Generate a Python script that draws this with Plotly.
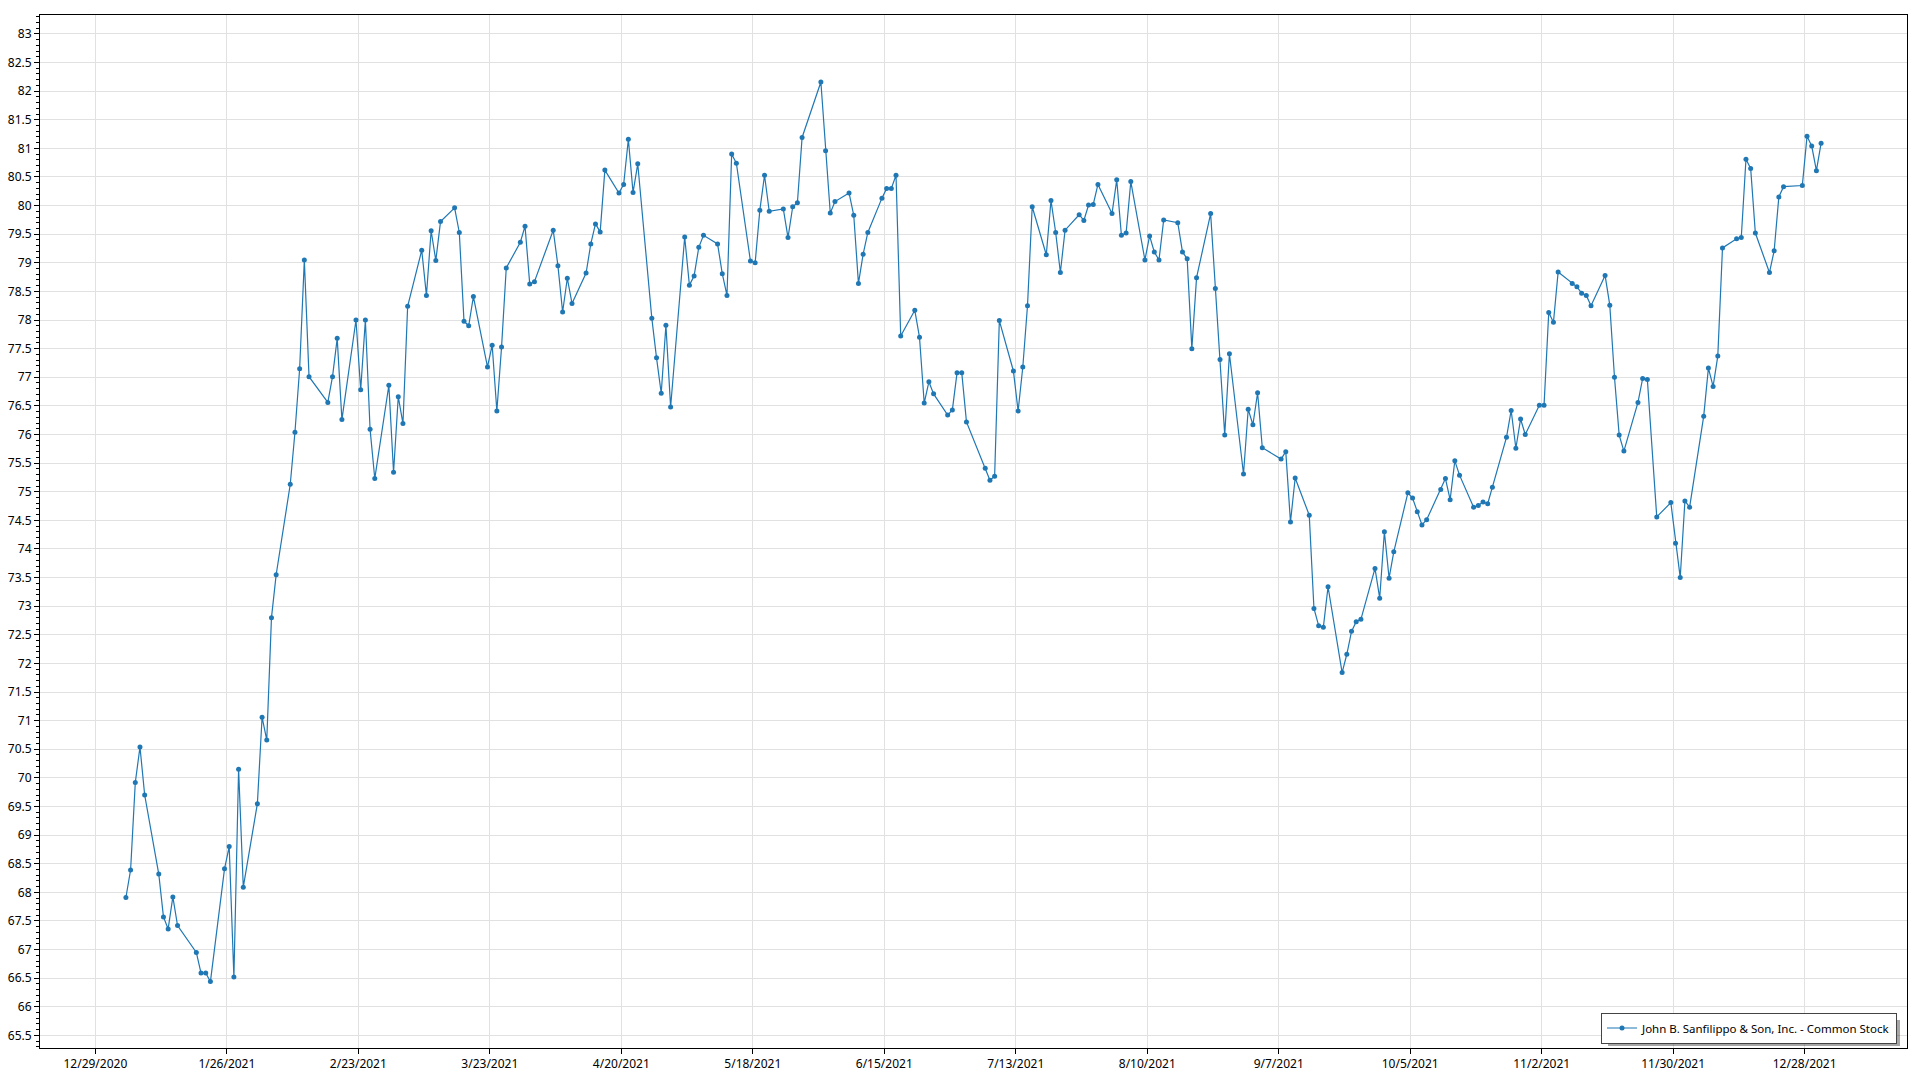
import pandas as pd
import plotly.graph_objects as go

# ---- Data: closing prices by month (trading days of 2021) ----
jan_days = [4, 5, 6, 7, 8, 11, 12, 13, 14, 15, 19, 20, 21, 22, 25, 26, 27, 28, 29]
jan_vals = [67.91, 68.39, 69.92, 70.54, 69.70, 68.32, 67.57, 67.36, 67.92, 67.42,
            66.95, 66.59, 66.59, 66.44, 68.41, 68.80, 66.52, 70.15, 68.09]

feb_days = [1, 2, 3, 4, 5, 8, 9, 10, 11, 12, 16, 17, 18, 19, 22, 23, 24, 25, 26]
feb_vals = [69.55, 71.06, 70.66, 72.80, 73.55, 75.13, 76.04, 77.15, 79.05, 77.01,
            76.56, 77.01, 77.68, 76.26, 78.00, 76.78, 78.00, 76.09, 75.23]

mar_days = [1, 2, 3, 4, 5, 8, 9, 10, 11, 12, 15, 16, 17, 18, 19, 22, 23, 24, 25, 26, 29, 30, 31]
mar_vals = [76.86, 75.34, 76.66, 76.19, 78.24, 79.22, 78.43, 79.56, 79.04, 79.72,
            79.96, 79.53, 77.98, 77.90, 78.41, 77.18, 77.56, 76.41, 77.53, 78.91,
            79.36, 79.64, 78.63]

apr_days = [1, 5, 6, 7, 8, 9, 12, 13, 14, 15, 16, 19, 20, 21, 22, 23, 26, 27, 28, 29, 30]
apr_vals = [78.67, 79.57, 78.95, 78.14, 78.73, 78.29, 78.82, 79.33, 79.68, 79.54,
            80.62, 80.22, 80.37, 81.16, 80.23, 80.73, 78.03, 77.34, 76.72, 77.91, 76.48]

may_days = [3, 4, 5, 6, 7, 10, 11, 12, 13, 14, 17, 18, 19, 20, 21, 24, 25, 26, 27, 28]
may_vals = [79.45, 78.61, 78.77, 79.27, 79.48, 79.33, 78.81, 78.43, 80.90, 80.74,
            79.03, 79.00, 79.92, 80.53, 79.90, 79.94, 79.44, 79.98, 80.05, 81.19]

jun_days = [1, 2, 3, 4, 7, 8, 9, 10, 11, 14, 15, 16, 17, 18, 21, 22, 23, 24, 25, 28, 29, 30]
jun_vals = [82.16, 80.96, 79.87, 80.07, 80.22, 79.83, 78.64, 79.15, 79.53, 80.13,
            80.30, 80.30, 80.53, 77.72, 78.17, 77.70, 76.55, 76.92, 76.71, 76.34,
            76.43, 77.08]

jul_days = [1, 2, 6, 7, 8, 9, 12, 13, 14, 15, 16, 19, 20, 21, 22, 23, 26, 27, 28, 29, 30]
jul_vals = [77.08, 76.22, 75.41, 75.20, 75.27, 77.99, 77.11, 76.41, 77.18, 78.25,
            79.98, 79.14, 80.09, 79.53, 78.83, 79.57, 79.84, 79.74, 80.01, 80.02, 80.37]

aug_days = [2, 3, 4, 5, 6, 9, 10, 11, 12, 13, 16, 17, 18, 19, 20, 23, 24, 25, 26, 27, 30, 31]
aug_vals = [79.86, 80.45, 79.48, 79.52, 80.42, 79.05, 79.47, 79.19, 79.05, 79.75,
            79.70, 79.19, 79.07, 77.50, 78.74, 79.86, 78.55, 77.31, 75.99, 77.41,
            75.31, 76.44]

sep_days = [1, 2, 3, 7, 8, 9, 10, 13, 14, 15, 16, 17, 20, 21, 22, 23, 24, 27, 28, 29, 30]
sep_vals = [76.17, 76.73, 75.77, 75.57, 75.70, 74.47, 75.24, 74.59, 72.96, 72.66,
            72.63, 73.34, 71.84, 72.16, 72.56, 72.73, 72.77, 73.66, 73.14, 74.30, 73.49]

oct_days = [1, 4, 5, 6, 7, 8, 11, 12, 13, 14, 15, 18, 19, 20, 21, 22, 25, 26, 27, 28, 29]
oct_vals = [73.95, 74.98, 74.89, 74.65, 74.42, 74.51, 75.04, 75.23, 74.86, 75.54,
            75.29, 74.73, 74.76, 74.82, 74.79, 75.08, 75.95, 76.42, 75.76, 76.27, 76.00]

nov_days = [1, 2, 3, 4, 5, 8, 9, 10, 11, 12, 15, 16, 17, 18, 19, 22, 23, 24, 26, 29, 30]
nov_vals = [76.51, 76.51, 78.13, 77.96, 78.84, 78.64, 78.58, 78.47, 78.43, 78.25,
            78.78, 78.26, 77.00, 75.99, 75.71, 76.56, 76.98, 76.96, 74.56, 74.81, 74.10]

dec_days = [1, 2, 3, 6, 7, 8, 9, 10, 13, 14, 15, 16, 17, 20, 21, 22, 23, 27, 28, 29, 30, 31]
dec_vals = [73.50, 74.84, 74.73, 76.32, 77.16, 76.84, 77.37, 79.26, 79.42, 79.44,
            80.81, 80.65, 79.52, 78.83, 79.21, 80.15, 80.33, 80.35, 81.21, 81.04,
            80.61, 81.09]

series_name = "John B. Sanfilippo & Son, Inc. - Common Stock"

# ---- Build table ----
months = [jan_days, feb_days, mar_days, apr_days, may_days, jun_days,
          jul_days, aug_days, sep_days, oct_days, nov_days, dec_days]
values = [jan_vals, feb_vals, mar_vals, apr_vals, may_vals, jun_vals,
          jul_vals, aug_vals, sep_vals, oct_vals, nov_vals, dec_vals]
dates, prices = [], []
for m, (days, vals) in enumerate(zip(months, values), start=1):
    for d, v in zip(days, vals):
        dates.append(pd.Timestamp(2021, m, d) + pd.Timedelta(hours=12))
        prices.append(v)
df = pd.DataFrame({"date": dates, "price": prices})

COLOR = "#1f77b4"
FONT = "Noto Sans, Open Sans, DejaVu Sans, sans-serif"
GRID = "#e1e1e1"

# page body has an 8px margin; plot area targets x 40..1907, y 15..1048 on screen
W, H = 1904, 1064
ML, MR, MT, MB = 32, 5, 7, 24
plot_l, plot_r, plot_t, plot_b = 40, 1907, 15, 1048


def px_to_paper_x(px):
    return (px - plot_l) / (plot_r - plot_l)


def px_to_paper_y(py):
    return (plot_b - py) / (plot_b - plot_t)


fig = go.Figure()
fig.add_trace(go.Scatter(
    x=df["date"], y=df["price"], mode="lines+markers", name=series_name,
    line=dict(color=COLOR, width=1.2),
    marker=dict(color=COLOR, size=5, symbol="circle"),
))

# soft legend shadow (drawn behind the legend box)
fig.add_shape(
    type="rect", xref="paper", yref="paper", layer="above",
    x0=px_to_paper_x(1608), x1=px_to_paper_x(1900),
    y0=px_to_paper_y(1046), y1=px_to_paper_y(1020),
    line=dict(width=0), fillcolor="rgba(0,0,0,0.35)",
)

fig.update_layout(
    width=W, height=H, autosize=False,
    margin=dict(l=ML, r=MR, t=MT, b=MB, pad=0, autoexpand=False),
    paper_bgcolor="white", plot_bgcolor="white",
    font=dict(family=FONT, size=12, color="#000000"),
    showlegend=True,
    legend=dict(
        x=px_to_paper_x(1897), y=px_to_paper_y(1043.5),
        xanchor="right", yanchor="bottom",
        bgcolor="white", bordercolor="#444444", borderwidth=1,
        font=dict(family=FONT, size=11.5, color="#000000"),
        itemwidth=30,
    ),
)

fig.update_xaxes(
    type="date", automargin=False,
    range=["2020-12-17 05:00", "2022-01-18 19:00"],
    tick0="2020-12-29", dtick=28 * 86400000,
    tickformat="%-m/%-d/%Y",
    showgrid=True, gridcolor=GRID, gridwidth=1,
    zeroline=False,
    showline=True, linecolor="black", linewidth=1, mirror=True,
    ticks="outside", ticklen=5, tickcolor="black", tickwidth=1,
    tickfont=dict(family=FONT, size=12, color="#000000"),
)

fig.update_yaxes(
    automargin=False,
    range=[65.28, 83.33],
    tick0=65.5, dtick=0.5,
    showgrid=True, gridcolor=GRID, gridwidth=1,
    zeroline=False,
    showline=True, linecolor="black", linewidth=1, mirror=True,
    ticks="outside", ticklen=5, tickcolor="black", tickwidth=1,
    tickfont=dict(family=FONT, size=12, color="#000000"),
    minor=dict(dtick=0.1, ticks="outside", ticklen=3, tickcolor="black", showgrid=False),
)

fig.write_html("out.html")
